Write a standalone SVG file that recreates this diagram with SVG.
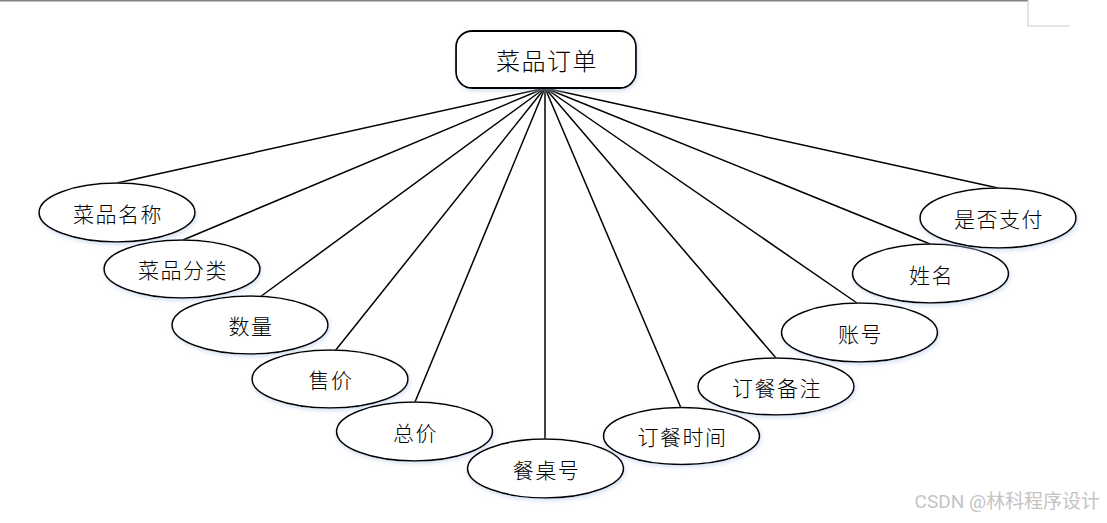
<svg xmlns="http://www.w3.org/2000/svg" width="1107" height="523" viewBox="0 0 1107 523">
<style>
.attr ellipse{fill:#fff;stroke:#000;stroke-width:1.6;filter:url(#glow)}
.attr text,.root text{font-family:"Noto Sans CJK SC","Liberation Sans",sans-serif;fill:#000;text-anchor:middle;dominant-baseline:central;font-weight:300}
.attr text{font-size:21px;letter-spacing:1.5px}
.root text{font-size:24px;letter-spacing:1.5px}
.root rect{fill:#fff;stroke:#000;stroke-width:1.8;filter:url(#glow)}
#connectors line{stroke:#000;stroke-width:1.5}
</style>
<defs>
<filter id="glow" x="-10%" y="-20%" width="120%" height="140%">
<feDropShadow dx="1" dy="2" stdDeviation="2" flood-color="#b8cce8" flood-opacity="0.6"/>
</filter>
</defs>
<rect width="1107" height="523" fill="#fff"/>
<line x1="0" y1="0.8" x2="1028" y2="0.8" stroke="#808080" stroke-width="1.6"/>
<polyline points="1028,0 1028,26 1070,26" fill="none" stroke="#c8c8c8" stroke-width="1"/>
<g id="connectors">
<line x1="545" y1="88" x2="117" y2="183"/>
<line x1="545" y1="88" x2="183" y2="240"/>
<line x1="545" y1="88" x2="260" y2="297"/>
<line x1="545" y1="88" x2="335" y2="351"/>
<line x1="545" y1="88" x2="415" y2="402"/>
<line x1="545" y1="88" x2="545" y2="439"/>
<line x1="545" y1="88" x2="681" y2="408"/>
<line x1="545" y1="88" x2="776" y2="358"/>
<line x1="545" y1="88" x2="857" y2="303"/>
<line x1="545" y1="88" x2="930" y2="244"/>
<line x1="545" y1="88" x2="998" y2="188"/>
</g>
<g id="root" class="root">
<rect x="456" y="31" width="180" height="57" rx="16"/>
<text x="547" y="59">菜品订单</text>
</g>
<g id="n1" class="attr"><ellipse cx="117" cy="212.5" rx="78" ry="29.5"/><text x="118" y="212.5">菜品名称</text></g>
<g id="n2" class="attr"><ellipse cx="182" cy="269" rx="78" ry="29"/><text x="183" y="269">菜品分类</text></g>
<g id="n3" class="attr"><ellipse cx="250" cy="325" rx="78" ry="29"/><text x="251" y="325">数量</text></g>
<g id="n4" class="attr"><ellipse cx="330" cy="379" rx="78" ry="29"/><text x="331" y="379">售价</text></g>
<g id="n5" class="attr"><ellipse cx="414.5" cy="431.5" rx="78" ry="29.5"/><text x="415.5" y="431.5">总价</text></g>
<g id="n6" class="attr"><ellipse cx="545.5" cy="468.5" rx="78" ry="29.5"/><text x="546.5" y="468.5">餐桌号</text></g>
<g id="n7" class="attr"><ellipse cx="681.5" cy="436" rx="78" ry="28.5"/><text x="682.5" y="436">订餐时间</text></g>
<g id="n8" class="attr"><ellipse cx="776" cy="386.5" rx="78" ry="28.5"/><text x="777" y="386.5">订餐备注</text></g>
<g id="n9" class="attr"><ellipse cx="859.5" cy="332.5" rx="78" ry="29.5"/><text x="860.5" y="332.5">账号</text></g>
<g id="n10" class="attr"><ellipse cx="930.5" cy="273.5" rx="78" ry="29.5"/><text x="931.5" y="273.5">姓名</text></g>
<g id="n11" class="attr"><ellipse cx="998" cy="218" rx="78" ry="30"/><text x="999" y="218">是否支付</text></g>
<text x="1100" y="508" font-family="Roboto,'Noto Sans CJK SC',sans-serif" font-size="19" fill="#c4c4c4" text-anchor="end">CSDN @林科程序设计</text>
</svg>
